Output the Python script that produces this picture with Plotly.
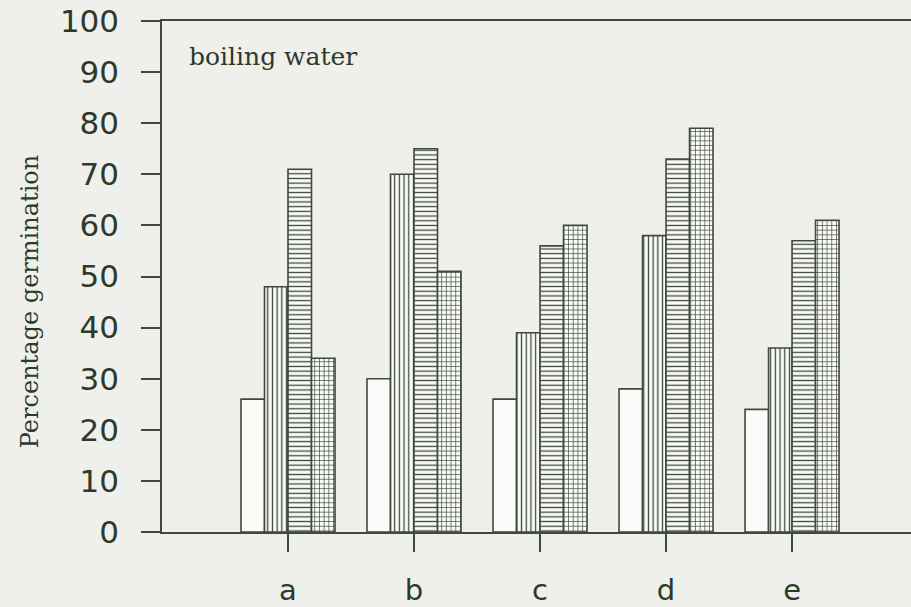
import plotly.graph_objects as go

# Germination after boiling-water treatment, four treatment levels per seed lot
lots = ["a", "b", "c", "d", "e"]
level_1 = [26, 30, 26, 28, 24]
level_2 = [48, 70, 39, 58, 36]
level_3 = [71, 75, 56, 73, 57]
level_4 = [34, 51, 60, 79, 61]
y_ticks = [0, 10, 20, 30, 40, 50, 60, 70, 80, 90, 100]

INK = "#3e4a3c"
TEXT = "#2c3a2b"
BG = "#efefec"
FILL = "#fbfbf9"

series = [
    (level_1, ""),
    (level_2, "|"),
    (level_3, "-"),
    (level_4, "+"),
]

fig = go.Figure()
for values, shape in series:
    fig.add_trace(go.Bar(
        x=lots,
        y=values,
        marker=dict(
            color=FILL,
            line=dict(color=INK, width=1.6),
            pattern=dict(shape=shape, fgcolor=INK, bgcolor=FILL,
                         size=4.7, solidity=0.28, fillmode="replace"),
        ),
        showlegend=False,
        hoverinfo="skip",
    ))

fig.update_layout(
    width=911,
    height=607,
    margin=dict(l=162, r=0, t=21, b=75),
    paper_bgcolor=BG,
    plot_bgcolor=BG,
    barmode="group",
    bargap=0.254,
    bargroupgap=0,
    font=dict(family="DejaVu Sans", color=TEXT),
)

fig.update_xaxes(
    range=[-1, 4.944],
    showline=True, linecolor=INK, linewidth=1.5, mirror=True,
    ticks="outside", ticklen=18, tickwidth=1.5, tickcolor=INK,
    tickfont=dict(family="DejaVu Sans", size=29, color=TEXT),
    ticklabelstandoff=13,
    showgrid=False, zeroline=False,
)
fig.update_yaxes(
    range=[0, 100],
    tickvals=y_ticks,
    showline=True, linecolor=INK, linewidth=1.5,
    ticks="outside", ticklen=19, tickwidth=1.5, tickcolor=INK,
    tickfont=dict(family="DejaVu Sans", size=31, color=TEXT),
    ticklabelstandoff=16,
    showgrid=False, zeroline=False,
)

fig.add_annotation(
    text="Percentage germination",
    xref="paper", yref="paper",
    x=-0.176, y=0.45,
    xanchor="center", yanchor="middle",
    textangle=-90, showarrow=False,
    font=dict(family="DejaVu Serif", size=24, color=TEXT),
)
fig.add_annotation(
    text="boiling water",
    xref="paper", yref="paper",
    x=0.034, y=0.93,
    xanchor="left", yanchor="middle",
    showarrow=False,
    font=dict(family="DejaVu Serif", size=25, color=TEXT),
)

fig.write_html("out.html")
